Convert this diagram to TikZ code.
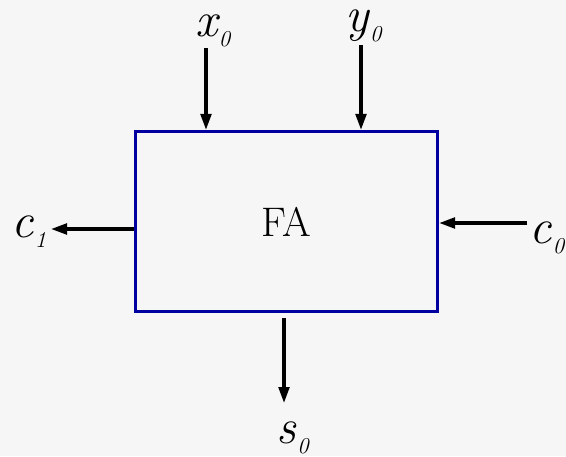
\documentclass[tikz,border=0pt]{standalone}
\usepackage{fontspec}
\usetikzlibrary{arrows.meta}
\definecolor{bgcol}{RGB}{246,246,246}
\definecolor{boxblue}{RGB}{0,0,160}
\newcommand{\lowidx}[1]{\kern1pt\raisebox{-7.5pt}{\fontsize{17}{17}\selectfont #1}}
\tikzset{
  arr/.style={line width=2.4pt, black, -{Triangle[length=12pt,width=8pt]}},
  lbl/.style={anchor=base west, inner sep=0pt, font=\fontsize{37}{42}\selectfont\itshape},
  fabox/.style={draw=boxblue, line width=2.4pt, minimum width=226.5pt, minimum height=135pt,
    inner sep=0pt, font=\fontsize{31}{36}\selectfont}
}
\begin{document}
\begin{tikzpicture}[x=0.75pt,y=-0.75pt]
  \fill[bgcol] (0,0) rectangle (566,456);
  \useasboundingbox (0,0) rectangle (566,456);
  % box
  \node[fabox] (fa) at (286.5,221.5) {FA};
  % labels
  \node[lbl] (x0) at (195,37) {x\lowidx{0}};
  \node[lbl] (y0) at (345,32) {y\lowidx{0}};
  \node[lbl] (c1) at (11,237) {c\lowidx{1}};
  \node[lbl] (c0) at (529,243) {c\lowidx{0}};
  \node[lbl] (s0) at (276,443) {s\lowidx{0}};
  % connector ends
  \coordinate (x0top) at (206,48);
  \coordinate (y0top) at (361,45);
  \coordinate (c1tip) at (51,229);
  \coordinate (c0start) at (527,223);
  \coordinate (s0start) at (284,318);
  \coordinate (s0tip) at (284,403);
  % connectors
  \draw[arr] (x0top) -- (x0top |- fa.north);
  \draw[arr] (y0top) -- (y0top |- fa.north);
  \draw[arr] (fa.west |- c1tip) -- (c1tip);
  \draw[arr] (c0start) -- (fa.east |- c0start);
  \draw[arr] (s0start) -- (s0tip);
\end{tikzpicture}
\end{document}
